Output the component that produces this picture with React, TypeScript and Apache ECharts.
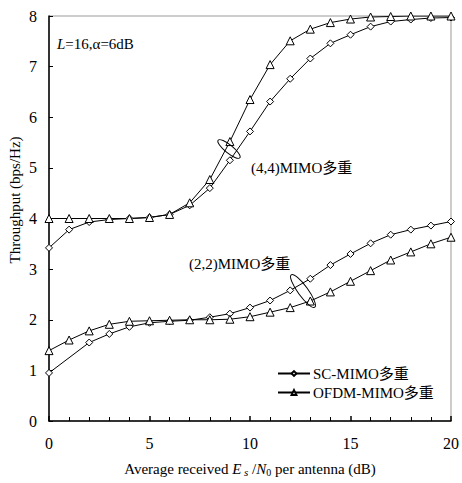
import React, { useEffect, useRef } from "react";
import * as echarts from "echarts";

const snr = [0, 1, 2, 3, 4, 5, 6, 7, 8, 9, 10, 11, 12, 13, 14, 15, 16, 17, 18, 19, 20];
const sc44 = [3.42, 3.78, 3.93, 3.98, 4.0, 4.02, 4.08, 4.26, 4.6, 5.15, 5.72, 6.31, 6.76, 7.16, 7.46, 7.63, 7.79, 7.89, 7.93, 7.96, 7.97];
const ofdm44 = [4.0, 4.0, 4.0, 4.0, 4.0, 4.02, 4.08, 4.31, 4.77, 5.52, 6.35, 7.04, 7.51, 7.74, 7.87, 7.94, 7.98, 7.99, 8.0, 8.0, 8.0];
const sc22 = [0.95, null, 1.55, 1.72, 1.86, 1.94, 1.97, 1.99, 2.05, 2.12, 2.24, 2.38, 2.58, 2.81, 3.08, 3.3, 3.51, 3.68, 3.78, 3.86, 3.94];
const ofdm22 = [1.39, 1.6, 1.78, 1.91, 1.97, 1.98, 1.99, 2.0, 2.0, 2.01, 2.06, 2.15, 2.24, 2.37, 2.55, 2.76, 2.97, 3.18, 3.34, 3.5, 3.63];

const SC_NAME = "SC-MIMO多重";
const OFDM_NAME = "OFDM-MIMO多重";
const FONT = "'Liberation Serif', 'Times New Roman', 'Noto Sans CJK SC', serif";

function pairs(ys: (number | null)[]) {
  return snr.map((x, i) => [x, ys[i]]).filter((p) => p[1] !== null);
}

export default function App() {
  const ref = useRef<HTMLDivElement>(null);
  useEffect(() => {
    if (!ref.current) return;
    const chart = echarts.init(ref.current, undefined, { renderer: "svg" });
    const mk = (name: string, ys: (number | null)[], symbol: string, size: number) => ({
      type: "line",
      name,
      data: pairs(ys),
      symbol,
      symbolSize: size,
      showAllSymbol: true,
      lineStyle: { color: "#000", width: 1 },
      itemStyle: { color: "#fff", borderColor: "#000", borderWidth: 1 },
      emphasis: { disabled: true },
      z: 3,
    });
    chart.setOption({
      animation: false,
      backgroundColor: "#fff",
      textStyle: { fontFamily: FONT, color: "#000" },
      grid: {
        left: 49,
        right: 8,
        top: 16,
        bottom: 61,
        show: true,
        borderColor: "#999",
        borderWidth: 1,
        backgroundColor: "transparent",
      },
      legend: {
        data: [SC_NAME, OFDM_NAME],
        orient: "vertical",
        left: 272,
        top: 361,
        itemWidth: 32,
        itemHeight: 6,
        itemGap: 4,
        textStyle: { fontFamily: FONT, fontSize: 15, color: "#000", padding: [0, 0, 0, -2] },
        inactiveColor: "#000",
      },
      xAxis: {
        type: "value",
        min: 0,
        max: 20,
        interval: 5,
        name: "Average received {i|E}{s| s} /{i|N}{z|0} per antenna (dB)",
        nameLocation: "middle",
        nameGap: 40,
        nameTextStyle: {
          fontFamily: FONT,
          fontSize: 15,
          color: "#000",
          rich: {
            i: { fontFamily: FONT, fontSize: 15, fontStyle: "italic", color: "#000" },
            s: { fontFamily: FONT, fontSize: 11, fontStyle: "italic", color: "#000", padding: [6, 0, 0, 0] },
            z: { fontFamily: FONT, fontSize: 10, color: "#000", padding: [6, 0, 0, 0] },
          },
        },
        axisLine: { show: true, onZero: false, lineStyle: { color: "#000", width: 1.5 } },
        axisTick: { show: true, inside: true, length: 5, lineStyle: { color: "#000", width: 1.5 } },
        minorTick: { show: true, splitNumber: 5, length: 4, lineStyle: { color: "#000", width: 1 } },
        axisLabel: { fontFamily: FONT, fontSize: 16, color: "#000", margin: 14 },
        splitLine: { show: false },
      },
      yAxis: {
        type: "value",
        min: 0,
        max: 8,
        interval: 1,
        axisLine: { show: true, onZero: false, lineStyle: { color: "#000", width: 1.5 } },
        axisTick: { show: true, inside: true, length: 4, lineStyle: { color: "#000", width: 1 } },
        axisLabel: { fontFamily: FONT, fontSize: 16, color: "#000", margin: 12 },
        splitLine: { show: false },
      },
      graphic: [
        {
          type: "text",
          x: 15,
          y: 200,
          rotation: Math.PI / 2,
          style: {
            text: "Throughput (bps/Hz)",
            font: `15px ${FONT}`,
            fill: "#000",
            align: "center",
            verticalAlign: "middle",
          },
        },
        {
          type: "text",
          x: 57,
          y: 44,
          style: {
            text: "{i|L}{n|=16,α=6dB}",
            align: "left",
            verticalAlign: "middle",
            rich: {
              i: { fontFamily: FONT, fontSize: 15, fontStyle: "italic", fill: "#000" },
              n: { fontFamily: FONT, fontSize: 15, fill: "#000" },
            },
          },
        },
        {
          type: "text",
          x: 251,
          y: 168,
          style: {
            text: "(4,4)MIMO多重",
            font: `15px ${FONT}`,
            fill: "#000",
            align: "left",
            verticalAlign: "middle",
          },
        },
        {
          type: "text",
          x: 189,
          y: 264,
          style: {
            text: "(2,2)MIMO多重",
            font: `15px ${FONT}`,
            fill: "#000",
            align: "left",
            verticalAlign: "middle",
          },
        },
        {
          type: "ellipse",
          x: 229,
          y: 149,
          rotation: -0.68,
          shape: { cx: 0, cy: 0, rx: 14, ry: 4 },
          style: { fill: "none", stroke: "#000", lineWidth: 1 },
          z: 10,
        },
        {
          type: "ellipse",
          x: 303,
          y: 291,
          rotation: -0.94,
          shape: { cx: 0, cy: 0, rx: 20, ry: 5 },
          style: { fill: "none", stroke: "#000", lineWidth: 1 },
          z: 10,
        },
      ],
      series: [
        mk(SC_NAME, sc44, "diamond", 7),
        mk(OFDM_NAME, ofdm44, "triangle", 8),
        mk(SC_NAME, sc22, "diamond", 7),
        mk(OFDM_NAME, ofdm22, "triangle", 8),
      ],
    });
    return () => chart.dispose();
  }, []);
  return (
    <div
      ref={ref}
      style={{ position: "fixed", left: 0, top: 0, width: 462, height: 483, background: "#fff" }}
    />
  );
}
